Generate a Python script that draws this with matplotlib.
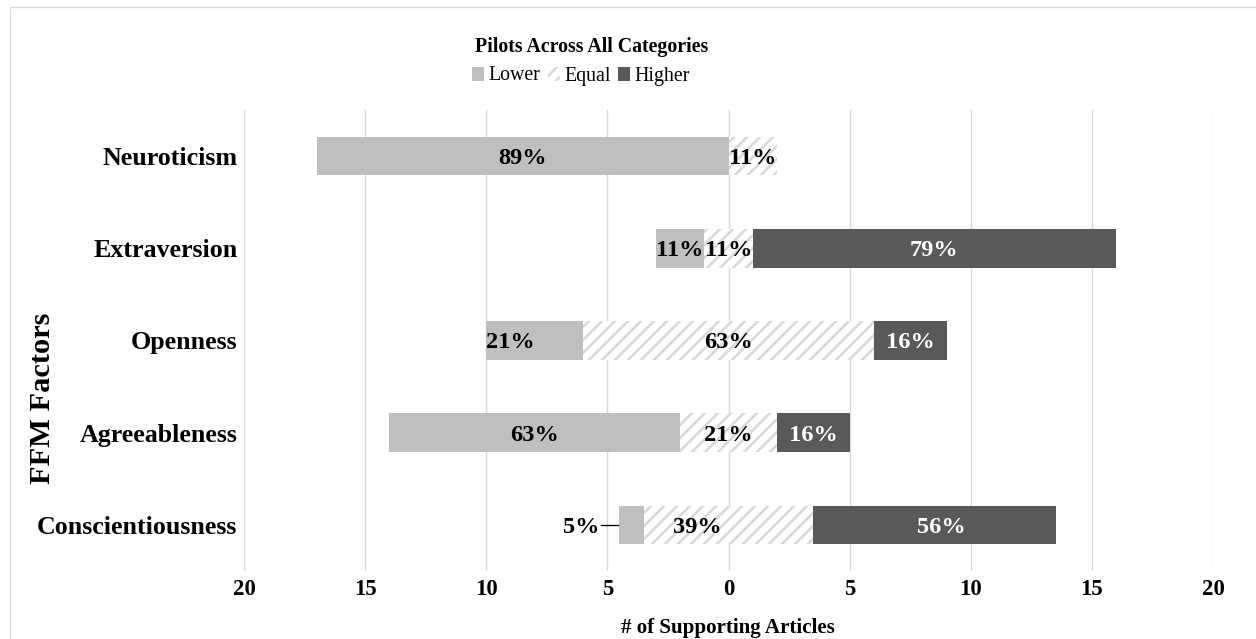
import numpy as np
import matplotlib
matplotlib.use("Agg")
import matplotlib.pyplot as plt
from matplotlib.patches import Rectangle, Patch

# data, top row first
factors = ["Neuroticism", "Extraversion", "Openness", "Agreeableness", "Conscientiousness"]
lower = [17, 2, 4, 12, 1]
equal = [2, 2, 12, 4, 7]
higher = [0, 15, 3, 3, 10]
equal_neg = [0, 1, 6, 2, 3.5]   # part of the Equal bar drawn left of zero
lower_pct = ["89%", "11%", "21%", "63%", "5%"]
equal_pct = ["11%", "11%", "63%", "21%", "39%"]
higher_pct = ["", "79%", "16%", "16%", "56%"]
xticks = [-20, -15, -10, -5, 0, 5, 10, 15, 20]

# small label nudges copied from the original layout
nudge = {(2, "lower"): -1.0, (4, "equal"): -1.3, (4, "higher"): 0.3}

C_LOW = "#bfbfbf"
C_EQ = "#d9d9d9"
C_HIGH = "#595959"
GRID = "#d9d9d9"

DPI = 78
plt.rcParams["font.family"] = ["Liberation Serif", "DejaVu Serif"]
plt.rcParams["hatch.linewidth"] = 2.5
plt.rcParams["hatch.color"] = C_EQ

fig = plt.figure(figsize=(1256 / DPI, 639 / DPI), dpi=DPI)
W, H = 1256, 639
ax = fig.add_axes([244 / W, (H - 571) / H, (1213 - 244) / W, (571 - 110) / H])

y = np.arange(len(factors))
lower = np.array(lower, float)
equal = np.array(equal, float)
higher = np.array(higher, float)
equal_neg = np.array(equal_neg, float)

bh = 0.42
low_left = -(equal_neg + lower)
eq_left = -equal_neg
hi_left = equal - equal_neg

ax.barh(y, lower, left=low_left, height=bh, color=C_LOW, lw=0, zorder=2)
ax.barh(y, equal, left=eq_left, height=bh, facecolor="white", edgecolor=C_EQ,
        hatch="//", lw=0, zorder=2)
ax.barh(y, higher, left=hi_left, height=bh, color=C_HIGH, lw=0, zorder=2)

lab_size = 22.5
for i in range(len(factors)):
    segs = [("lower", low_left[i], lower[i], lower_pct[i], "black"),
            ("equal", eq_left[i], equal[i], equal_pct[i], "black"),
            ("higher", hi_left[i], higher[i], higher_pct[i], "white")]
    for name, left, width, txt, col in segs:
        if width <= 0 or not txt:
            continue
        if width < 1.5:
            # too narrow, put outside with a leader line
            ax.plot([left - 0.75, left - 0.05], [y[i], y[i]], color="black", lw=1.2, zorder=3)
            ax.text(left - 0.85, y[i], txt, ha="right", va="center_baseline", fontsize=lab_size,
                    fontweight="bold", color="black", zorder=4)
            continue
        cx = left + width / 2 + nudge.get((i, name), 0)
        ax.text(cx, y[i], txt, ha="center", va="center_baseline", fontsize=lab_size,
                fontweight="bold", color=col, zorder=4)

ax.set_xlim(-20, 20)
ax.set_ylim(len(factors) - 0.5, -0.5)
ax.set_xticks(xticks)
ax.set_xticklabels([str(abs(t)) for t in xticks], fontsize=21, fontweight="bold")
ax.set_yticks(y)
ax.set_yticklabels(factors, fontsize=24, fontweight="bold")
ax.tick_params(axis="both", length=0)
ax.tick_params(axis="x", pad=7)
ax.tick_params(axis="y", pad=6)
ax.xaxis.grid(True, color=GRID, lw=1.3)
ax.set_axisbelow(True)
for s in ax.spines.values():
    s.set_visible(False)

fig.text(592 / W, 1 - 52 / H, "Pilots Across All Categories", ha="center", va="baseline",
         fontsize=18.4, fontweight="bold")
handles = [Patch(facecolor=C_LOW, lw=0, label="Lower"),
           Patch(facecolor="white", edgecolor=C_EQ, hatch="//", lw=0, label="Equal"),
           Patch(facecolor=C_HIGH, lw=0, label="Higher")]
fig.legend(handles=handles, loc="center", bbox_to_anchor=(581 / W, 1 - 76 / H), ncol=3,
           frameon=False, fontsize=18.4, handlelength=0.6, handleheight=0.7,
           handletextpad=0.2, columnspacing=0.4, borderpad=0)

fig.text(728 / W, 1 - 633 / H, "# of Supporting Articles", ha="center", va="baseline",
         fontsize=19.4, fontweight="bold")
fig.text(43 / W, 1 - 398 / H, "FFM Factors", ha="center", va="center", rotation=90,
         fontsize=28, fontweight="bold")

fig.patches.append(Rectangle((10 / W, -0.02), 1.0, (H - 7) / H + 0.02, transform=fig.transFigure,
                             fill=False, edgecolor=GRID, lw=1.2))

fig.savefig("out.png", dpi=DPI)
